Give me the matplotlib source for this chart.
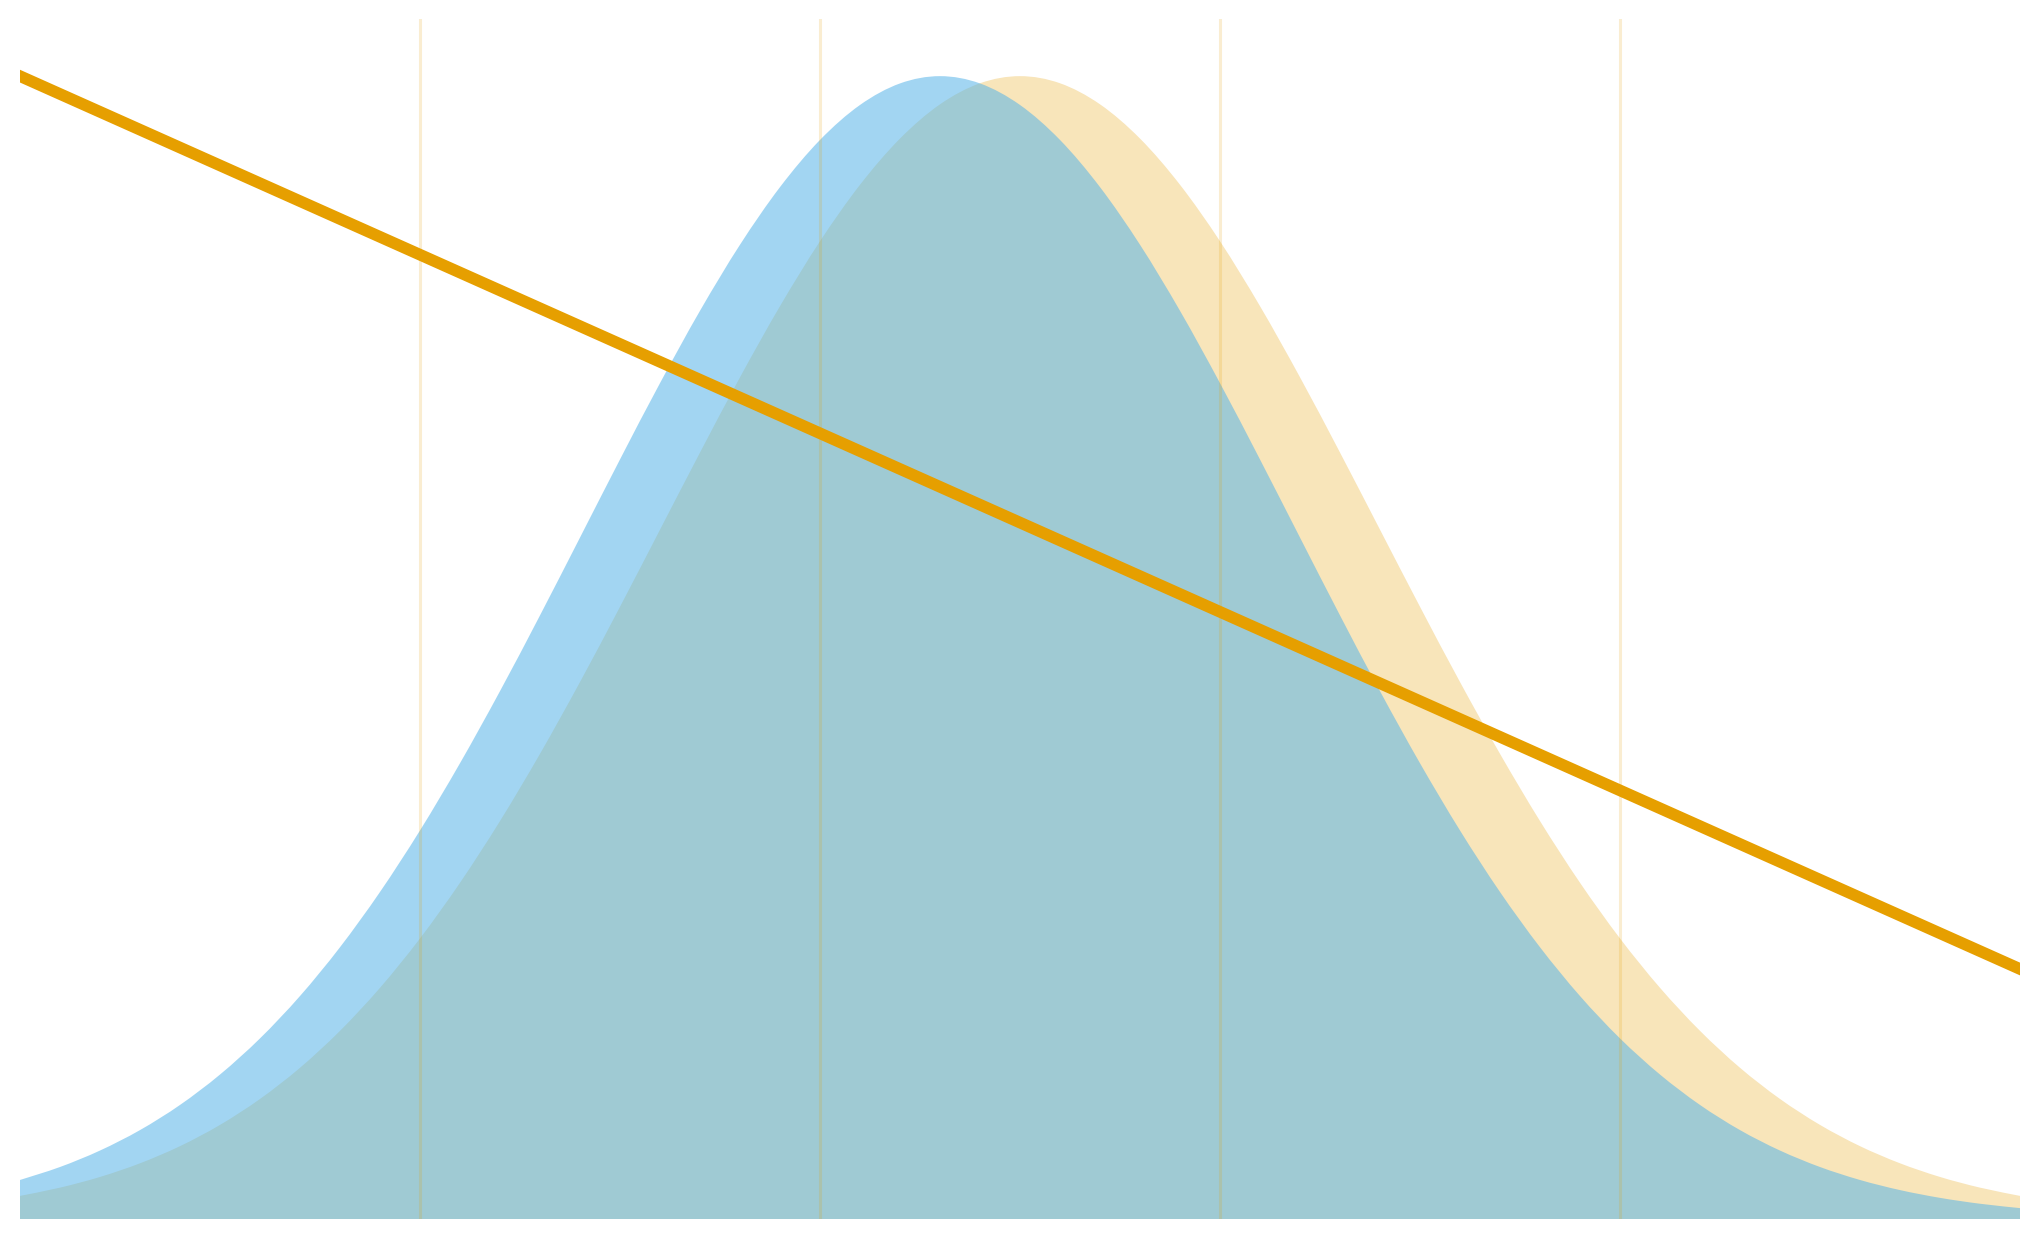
import numpy as np
import matplotlib; matplotlib.use("Agg")
import matplotlib.pyplot as plt
from matplotlib.path import Path
from matplotlib.patches import PathPatch

# ---------- data ----------
x = [round(0.1 * i, 1) for i in range(51)]

blue = [0.01366, 0.01820, 0.02396, 0.03112, 0.03992, 0.05056, 0.06321, 0.07804,
        0.09512, 0.11446, 0.13599, 0.15952, 0.18475, 0.21126, 0.23850, 0.26584,
        0.29255, 0.31787, 0.34099, 0.36116, 0.37767, 0.38991, 0.39745, 0.40000,
        0.39745, 0.38991, 0.37767, 0.36116, 0.34099, 0.31787, 0.29255, 0.26584,
        0.23850, 0.21126, 0.18475, 0.15952, 0.13599, 0.11446, 0.09512, 0.07804,
        0.06321, 0.05056, 0.03992, 0.03112, 0.02396, 0.01820, 0.01366, 0.01012,
        0.00740, 0.00534, 0.00381]

orange = [0.00809, 0.01098, 0.01472, 0.01950, 0.02550, 0.03294, 0.04202, 0.05293,
          0.06586, 0.08092, 0.09820, 0.11769, 0.13929, 0.16282, 0.18795, 0.21428,
          0.24126, 0.26826, 0.29460, 0.31950, 0.34221, 0.36198, 0.37815, 0.39014,
          0.39751, 0.40000, 0.39751, 0.39014, 0.37815, 0.36198, 0.34221, 0.31950,
          0.29460, 0.26826, 0.24126, 0.21428, 0.18795, 0.16282, 0.13929, 0.11769,
          0.09820, 0.08092, 0.06586, 0.05293, 0.04202, 0.03294, 0.02550, 0.01950,
          0.01472, 0.01098, 0.00809]

line_x = [0.0, 5.0]
line_y = [0.400, 0.0875]

grid_x = [1, 2, 3, 4]

BLUE = "#56B4E9"
ORANGE = "#E69F00"


def area_path(xs, ys):
    """closed area under a smooth (Catmull-Rom -> Bezier) curve through the points"""
    p = np.column_stack([xs, ys]).astype(float)
    n = len(p)
    verts = [(p[0, 0], 0.0), tuple(p[0])]
    codes = [Path.MOVETO, Path.LINETO]
    for i in range(n - 1):
        a = p[i - 1] if i > 0 else p[i]
        d = p[i + 2] if i + 2 < n else p[i + 1]
        c1 = p[i] + (p[i + 1] - a) / 6.0
        c2 = p[i + 1] - (d - p[i]) / 6.0
        verts += [tuple(c1), tuple(c2), tuple(p[i + 1])]
        codes += [Path.CURVE4] * 3
    verts += [(p[-1, 0], 0.0), (p[0, 0], 0.0)]
    codes += [Path.LINETO, Path.CLOSEPOLY]
    return Path(verts, codes)


# ---------- plot ----------
W, H = 2039, 1239
fig = plt.figure(figsize=(W / 100, H / 100), dpi=100)
ax = fig.add_axes([20 / W, 20 / H, 2000 / W, 1200 / H])

ax.add_patch(PathPatch(area_path(x, orange), facecolor=ORANGE, alpha=0.27,
                       linewidth=0, zorder=1))
ax.add_patch(PathPatch(area_path(x, blue), facecolor=BLUE, alpha=0.55,
                       linewidth=0, zorder=1.1))
ax.plot(line_x, line_y, color=ORANGE, linewidth=8.4, solid_capstyle="projecting", zorder=3)

ax.set_xlim(0, 5)
ax.set_ylim(0, 0.42)
ax.set_xticks(grid_x)
ax.set_yticks([])
ax.set_axisbelow(False)
ax.grid(axis="x", color=ORANGE, alpha=0.18, linewidth=2.2)
ax.tick_params(length=0, labelbottom=False, labelleft=False)
for s in ax.spines.values():
    s.set_visible(False)

fig.savefig("out.png", dpi=100)
